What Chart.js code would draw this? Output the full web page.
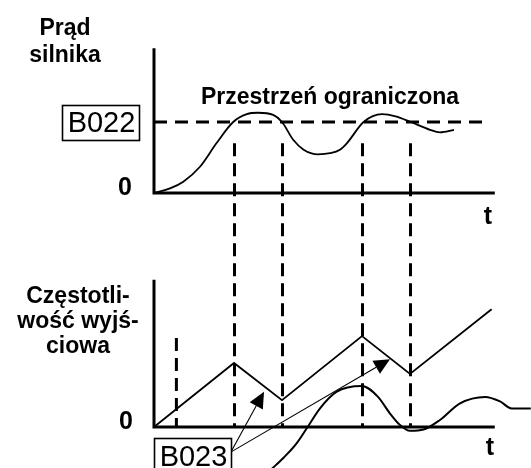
<!DOCTYPE html>
<html>
<head>
<meta charset="utf-8">
<script src="https://cdn.jsdelivr.net/npm/chart.js@4"></script>
<style>
  html, body { margin: 0; padding: 0; background: #ffffff; }
  canvas { display: block; }
</style>
</head>
<body>
<canvas id="diagram" width="531" height="468"></canvas>
<script>
// Time is measured in units of the event spacing; current relative to the B022 limit.
const currentTime  = [0, 0.2, 0.366, 0.575, 0.78, 0.99, 1.16, 1.3, 1.49, 1.6, 1.74, 1.87, 2.05, 2.2, 2.325, 2.41, 2.62, 2.85, 3.02, 3.21, 3.45, 3.575, 3.75];
const currentValue = [0, 0.065, 0.16, 0.37, 0.70, 1.0, 1.11, 1.13, 1.10, 1.0, 0.75, 0.61, 0.545, 0.56, 0.61, 0.70, 1.0, 1.11, 1.08, 1.0, 0.89, 0.855, 0.89];

// Output frequency (ramp up / ramp down while the limit is active).
const freqTime  = [0, 1.0, 1.6, 2.6, 3.2, 4.22];
const freqValue = [0, 1.0, 0.42, 1.42, 0.83, 1.84];

// Current response drawn in the lower panel.
const responseTime  = [1.4, 1.45, 1.62, 1.78, 1.92, 2.08, 2.28, 2.6, 2.8, 2.95, 3.075, 3.2, 3.37, 3.575, 3.825, 4.14, 4.325, 4.47, 4.71];
const responseValue = [-0.74, -0.68, -0.48, -0.26, 0.0, 0.3, 0.55, 0.64, 0.47, 0.21, 0.03, -0.06, -0.04, 0.11, 0.37, 0.47, 0.40, 0.29, 0.29];

// Moments when the current crosses the B022 level.
const markerTime = [1.0, 1.6, 2.6, 3.2];
const markerTopCurrent = 0.70;
const startMarkerTime = 0.28;
const startMarkerTop = 1.39;

const limitLevel = 1.0;
const limitEnd = 4.175;
const axisEnd = 4.26;
const currentAxisTop = 2.04;
const freqAxisTop = 2.3;

// B023 callout arrows: [fromTime, fromFreq, toTime, toFreq]
const decelArrows = [
  [0.97, -0.37, 1.375, 0.55],
  [0.97, -0.385, 2.95, 1.06]
];

const currentLabel = ['Prąd', 'silnika'];
const freqLabel = ['Częstotli-', 'wość wyjś-', 'ciowa'];
const regionLabel = 'Przestrzeń ograniczona';
const limitLabel = 'B022';
const rateLabel = 'B023';
const zeroLabel = '0';
const timeLabel = 't';

const pts = (xs, ys) => xs.map((x, i) => ({ x: x, y: ys[i] }));
const INK = '#000000';
const BOLD = 'bold 23px "Liberation Sans", Arial, sans-serif';
const GUIDE_DASH = [13, 7];
const LIMIT_DASH = [13, 8];

const line = (data, axis, extra) => Object.assign({
  data: data, yAxisID: axis, borderColor: INK, borderWidth: 1.7,
  pointRadius: 0, fill: false, tension: 0
}, extra || {});

const annotate = {
  id: 'annotate',
  beforeDatasetsDraw(chart) {
    const ctx = chart.ctx, x = chart.scales.x, yc = chart.scales.yCur, yf = chart.scales.yFreq;
    ctx.save();
    ctx.strokeStyle = INK;
    ctx.lineWidth = 3;
    ctx.setLineDash(GUIDE_DASH);
    markerTime.forEach(t => {
      const px = Math.round(x.getPixelForValue(t)) + 0.5;
      ctx.beginPath();
      ctx.moveTo(px, yc.getPixelForValue(markerTopCurrent));
      ctx.lineTo(px, yf.getPixelForValue(0));
      ctx.stroke();
    });
    ctx.restore();
  },
  afterDatasetsDraw(chart) {
    const ctx = chart.ctx, x = chart.scales.x, yc = chart.scales.yCur, yf = chart.scales.yFreq;
    const x0 = x.getPixelForValue(0);
    ctx.save();
    ctx.fillStyle = INK;
    ctx.strokeStyle = INK;

    // arrows
    decelArrows.forEach(a => {
      const x1 = x.getPixelForValue(a[0]), y1 = yf.getPixelForValue(a[1]);
      const x2 = x.getPixelForValue(a[2]), y2 = yf.getPixelForValue(a[3]);
      const ang = Math.atan2(y2 - y1, x2 - x1);
      const len = 16, half = 7.5;
      const bx = x2 - len * Math.cos(ang), by = y2 - len * Math.sin(ang);
      ctx.lineWidth = 1.1;
      ctx.beginPath();
      ctx.moveTo(x1, y1);
      ctx.lineTo(bx, by);
      ctx.stroke();
      ctx.beginPath();
      ctx.moveTo(x2, y2);
      ctx.lineTo(bx + half * Math.sin(ang), by - half * Math.cos(ang));
      ctx.lineTo(bx - half * Math.sin(ang), by + half * Math.cos(ang));
      ctx.closePath();
      ctx.fill();
    });

    // parameter boxes
    ctx.lineWidth = 1.6;
    ctx.font = '29px "Liberation Sans", Arial, sans-serif';
    ctx.textAlign = 'center';
    ctx.textBaseline = 'alphabetic';
    const limY = yc.getPixelForValue(limitLevel);
    const bw = 77, bh = 35;
    const bRight = x0 - 15;
    ctx.strokeRect(bRight - bw + 0.5, Math.round(limY - bh / 2) + 0.5, bw, bh);
    ctx.fillText(limitLabel, bRight - bw / 2 + 1, limY + 10);

    const rateTop = yf.getPixelForValue(0) + 11;
    ctx.strokeRect(x0 + 0.5, Math.round(rateTop) + 0.5, bw, 40);
    ctx.fillText(rateLabel, x0 + bw / 2 + 1, rateTop + 28);

    // axis labels
    ctx.font = BOLD;
    currentLabel.forEach((s, i) => ctx.fillText(s, 65, 35 + i * 27));
    freqLabel.forEach((s, i) => ctx.fillText(s, 78, 303 + i * 25));
    ctx.fillText(regionLabel, 330, 104);

    ctx.font = 'bold 25px "Liberation Sans", Arial, sans-serif';
    ctx.fillText(zeroLabel, x0 - 29, yc.getPixelForValue(0) + 2);
    ctx.fillText(zeroLabel, x0 - 28, yf.getPixelForValue(0) + 2);
    const tx = x.getPixelForValue(axisEnd) - 7;
    ctx.fillText(timeLabel, tx, yc.getPixelForValue(0) + 31);
    ctx.fillText(timeLabel, tx + 2, yf.getPixelForValue(0) + 28);
    ctx.restore();
  }
};

// Scale ranges place both panels on one shared time axis.
const W = 531, H = 468;
const tOrigin = 154, tUnit = 80;
const curZero = 193, curUnit = 71;
const frqZero = 427, frqUnit = 64;

new Chart(document.getElementById('diagram'), {
  type: 'line',
  data: {
    datasets: [
      line(pts([0, 0, axisEnd], [currentAxisTop, 0, 0]), 'yCur', { borderWidth: 3, borderJoinStyle: 'miter' }),
      line(pts([0, 0, axisEnd], [freqAxisTop, 0, 0]), 'yFreq', { borderWidth: 3, borderJoinStyle: 'miter' }),
      line(pts([0, limitEnd], [limitLevel, limitLevel]), 'yCur', { borderWidth: 3, borderDash: LIMIT_DASH }),
      line(pts([startMarkerTime, startMarkerTime], [startMarkerTop, 0]), 'yFreq', { borderWidth: 3, borderDash: GUIDE_DASH }),
      line(pts(currentTime, currentValue), 'yCur', { cubicInterpolationMode: 'monotone', borderWidth: 1.8 }),
      line(pts(freqTime, freqValue), 'yFreq', { borderWidth: 1.8 }),
      line(pts(responseTime, responseValue), 'yFreq', { cubicInterpolationMode: 'monotone', borderWidth: 2 })
    ]
  },
  options: {
    responsive: false,
    animation: false,
    devicePixelRatio: 1,
    layout: { padding: 0 },
    plugins: { legend: { display: false }, tooltip: { enabled: false }, title: { display: false } },
    scales: {
      x: { type: 'linear', display: false, min: -tOrigin / tUnit, max: (W - tOrigin) / tUnit },
      yCur: { type: 'linear', display: false, position: 'left', max: curZero / curUnit, min: (curZero - H) / curUnit },
      yFreq: { type: 'linear', display: false, position: 'left', max: frqZero / frqUnit, min: (frqZero - H) / frqUnit }
    }
  },
  plugins: [annotate]
});
</script>
</body>
</html>
